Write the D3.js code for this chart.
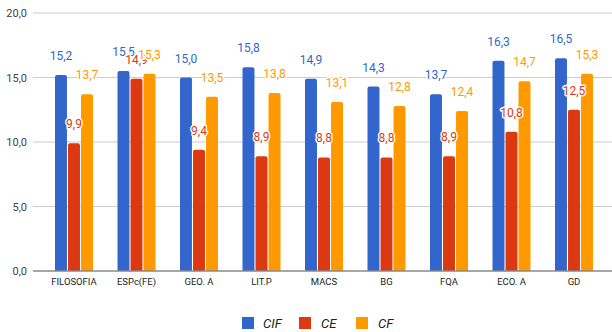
<!DOCTYPE html>
<html>
<head>
<meta charset="utf-8">
<script src="https://cdn.jsdelivr.net/npm/d3@7"></script>
<style>
  body { margin: 0; background: #fff; }
  svg { font-family: Roboto, Arial, sans-serif; }
</style>
</head>
<body>
<div id="chart"></div>
<script>
const subjects = ["FILOSOFIA", "ESPc(FE)", "GEO. A", "LIT.P", "MACS", "BG", "FQA", "ECO. A", "GD"];
const seriesNames = ["CIF", "CE", "CF"];
const cifValues = [15.2, 15.5, 15.0, 15.8, 14.9, 14.3, 13.7, 16.3, 16.5];
const ceValues = [9.9, 14.9, 9.4, 8.9, 8.8, 8.8, 8.9, 10.8, 12.5];
const cfValues = [13.7, 15.3, 13.5, 13.8, 13.1, 12.8, 12.4, 14.7, 15.3];
const yTicks = [0, 5, 10, 15, 20];
const colors = ["#3366cc", "#dc3912", "#ff9900"];

const width = 612;
const height = 332;

const svg = d3.select("#chart").append("svg")
  .attr("width", width)
  .attr("height", height);

const fmt = (v) => d3.format(".1f")(v).replace(".", ",");

const y = d3.scaleLinear().domain([0, 20]).range([271, 13]);
const x0 = d3.scaleBand().domain(subjects).range([42.75, 605.25]).paddingInner(0).paddingOuter(0);
const x1 = d3.scaleBand().domain(seriesNames).range([0, 38]).paddingInner(0.08);
const groupOffset = (x0.bandwidth() - 38) / 2;

const table = subjects.map((s, i) => ({
  subject: s,
  values: [cifValues[i], ceValues[i], cfValues[i]]
}));

// gridlines
svg.append("g").selectAll("line")
  .data(yTicks.filter((t) => t !== 0))
  .join("line")
  .attr("x1", 33).attr("x2", width)
  .attr("y1", (d) => y(d)).attr("y2", (d) => y(d))
  .attr("stroke", "#cccccc").attr("stroke-width", 1);

// y labels
svg.append("g").selectAll("text")
  .data(yTicks)
  .join("text")
  .attr("x", 27)
  .attr("y", (d) => y(d) + 4)
  .attr("text-anchor", "end")
  .attr("font-size", 11)
  .attr("fill", "#444")
  .text(fmt);

// bars
const groups = svg.append("g").selectAll("g")
  .data(table)
  .join("g")
  .attr("transform", (d) => `translate(${x0(d.subject) + groupOffset},0)`);

const r = 2;
groups.selectAll("path")
  .data((d) => d.values.map((v, j) => ({ v, j })))
  .join("path")
  .attr("fill", (d) => colors[d.j])
  .attr("d", (d) => {
    const bx = x1(seriesNames[d.j]);
    const w = x1.bandwidth();
    const top = y(d.v);
    const bottom = y(0);
    return `M${bx},${bottom}V${top + r}Q${bx},${top} ${bx + r},${top}H${bx + w - r}Q${bx + w},${top} ${bx + w},${top + r}V${bottom}Z`;
  });

// baseline
svg.append("line")
  .attr("x1", 33).attr("x2", width)
  .attr("y1", y(0)).attr("y2", y(0))
  .attr("stroke", "#888").attr("stroke-width", 1.5);

// value labels
groups.selectAll("text.val")
  .data((d) => d.values.map((v, j) => ({ v, j })))
  .join("text")
  .attr("class", "val")
  .attr("x", (d) => x1(seriesNames[d.j]) + x1.bandwidth() / 2)
  .attr("y", (d) => y(d.v) - 15)
  .attr("text-anchor", "middle")
  .attr("font-size", 12)
  .attr("fill", (d) => colors[d.j])
  .attr("stroke", "#fff")
  .attr("stroke-width", 3)
  .attr("paint-order", "stroke")
  .attr("stroke-linejoin", "round")
  .text((d) => fmt(d.v));

// category labels
svg.append("g").selectAll("text")
  .data(subjects)
  .join("text")
  .attr("x", (d) => x0(d) + x0.bandwidth() / 2)
  .attr("y", 285)
  .attr("text-anchor", "middle")
  .attr("font-size", 9.5)
  .attr("fill", "#222")
  .text((d) => d);

// legend
const legendX = [242, 299, 356];
const legend = svg.append("g").selectAll("g")
  .data(seriesNames)
  .join("g")
  .attr("transform", (d, i) => `translate(${legendX[i]},317)`);

legend.append("rect")
  .attr("width", 12).attr("height", 12)
  .attr("fill", (d, i) => colors[i]);

legend.append("text")
  .attr("x", (d, i) => (i === 0 ? 21 : 22))
  .attr("y", 10.5)
  .attr("font-size", 13)
  .attr("font-style", "italic")
  .attr("fill", "#222")
  .text((d) => d);
</script>
</body>
</html>
